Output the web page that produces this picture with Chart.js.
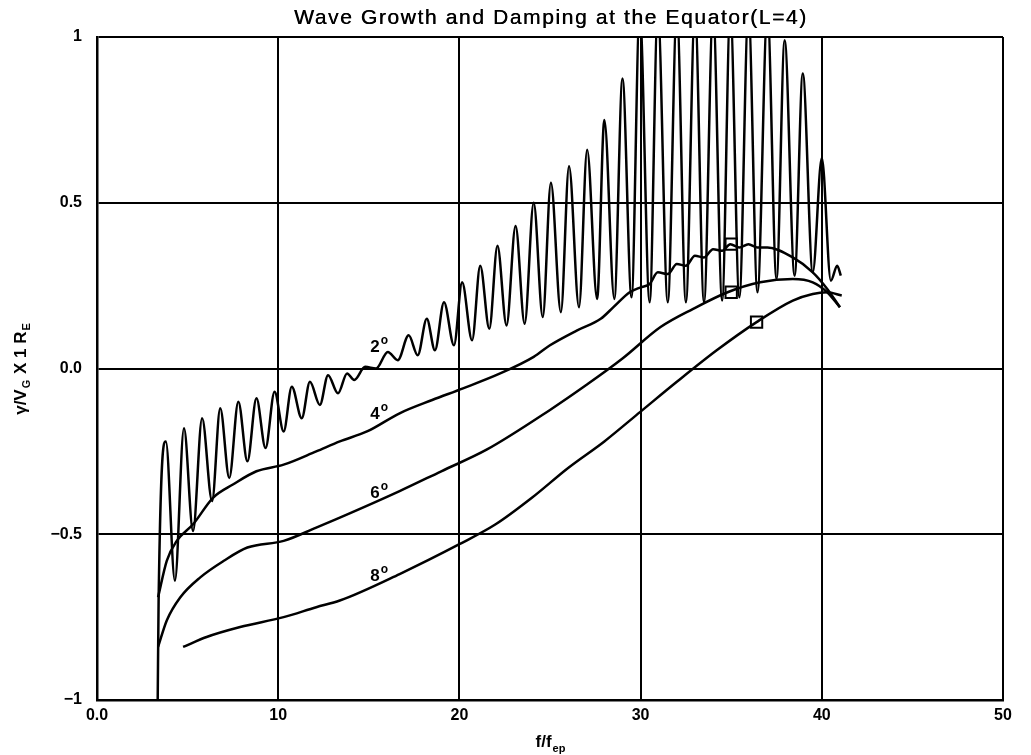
<!DOCTYPE html>
<html>
<head>
<meta charset="utf-8">
<script src="https://cdn.jsdelivr.net/npm/chart.js@4/dist/chart.umd.min.js"></script>
<style>
  html, body { margin: 0; padding: 0; background: #fff; }
  #wrap { width: 1031px; height: 755px; position: relative; }
</style>
</head>
<body>
<div id="wrap"><canvas id="c" width="1031" height="755"></canvas></div>
<script>
// ---------------- data ----------------
const chartTitle = 'Wave Growth and Damping at the Equator(L=4)';

const xTickValues = [0, 10, 20, 30, 40, 50];
const xTickLabels = ['0.0', '10', '20', '30', '40', '50'];
const yTickValues = [-1, -0.5, 0, 0.5, 1];
const yTickLabels = ['\u22121', '\u22120.5', '0.0', '0.5', '1'];

// 2 degree curve (oscillating)
const deg2X = [3.35, 3.4, 3.8, 4.3, 4.8, 5.3, 5.8, 6.35, 6.8, 7.3, 7.8, 8.3,
  8.8, 9.3, 9.8, 10.3, 10.75, 11.3, 11.75, 12.3, 12.75, 13.3,
  13.8, 14.2, 14.8, 15.4, 16.05, 16.6, 17.2, 17.7, 18.2, 18.65,
  19.15, 19.7, 20.15, 20.7, 21.15, 21.65, 22.1, 22.6, 23.1, 23.6,
  24.1, 24.6, 25.05, 25.6, 26.05, 26.6, 27.05, 27.6, 28.0, 28.55,
  29.0, 29.5, 29.95, 30.5, 30.95, 31.5, 32.0, 32.5, 33.0, 33.5,
  34.0, 34.5, 34.95, 35.45, 35.95, 36.45, 37.0, 37.5, 37.95, 38.5,
  38.95, 39.5, 40.0, 40.5, 40.85, 41.05];
const deg2Y = [-1.0, -0.70, -0.22, -0.64, -0.18, -0.49, -0.15, -0.40, -0.12, -0.33, -0.10, -0.28,
  -0.09, -0.24, -0.07, -0.19, -0.055, -0.15, -0.04, -0.11, -0.02, -0.075,
  -0.015, -0.035, 0.005, 0.0, 0.05, 0.025, 0.10, 0.04, 0.15, 0.055,
  0.20, 0.07, 0.26, 0.085, 0.31, 0.12, 0.37, 0.13, 0.43, 0.135,
  0.50, 0.155, 0.56, 0.17, 0.61, 0.185, 0.66, 0.21, 0.75, 0.21,
  0.875, 0.215, 1.08, 0.20, 1.08, 0.20, 1.08, 0.20, 1.08, 0.20,
  1.08, 0.205, 1.08, 0.215, 1.08, 0.23, 1.08, 0.27, 0.99, 0.28,
  0.89, 0.29, 0.635, 0.265, 0.31, 0.28];

// 4 degree curve (with small ripples near the top)
const deg4X = [3.37, 3.85, 4.4, 5.3, 6.4, 7.5, 8.8, 10.3, 12.1, 13.4, 14.9, 16.7, 18.5, 20.2,
  22.25, 24.1, 25.0, 26.5, 27.8, 28.5, 29.4, 30.0, 30.5, 30.95, 31.5, 32.0, 32.5, 33.0,
  33.5, 34.0, 34.5, 34.95, 35.45, 35.95, 36.45, 37.0, 38.4, 39.5, 40.3, 41.0];
const deg4Y = [-0.69, -0.58, -0.52, -0.47, -0.39, -0.35, -0.31, -0.29, -0.25, -0.22, -0.19, -0.135, -0.095, -0.06,
  -0.015, 0.035, 0.07, 0.115, 0.15, 0.185, 0.23, 0.245, 0.255, 0.29, 0.285, 0.315, 0.31, 0.34,
  0.335, 0.36, 0.355, 0.375, 0.365, 0.375, 0.365, 0.365, 0.335, 0.29, 0.24, 0.185];

// 6 degree curve
const deg6X = [3.37, 3.85, 4.6, 5.7, 7.0, 8.3, 10.3, 12.1, 13.4, 16.7, 19.0, 21.5, 25.0, 27.0,
  29.0, 31.1, 32.9, 34.8, 36.6, 38.4, 39.5, 40.3, 41.0];
const deg6Y = [-0.84, -0.76, -0.69, -0.63, -0.58, -0.54, -0.52, -0.48, -0.45, -0.37, -0.31, -0.245, -0.125, -0.05,
  0.03, 0.125, 0.18, 0.23, 0.26, 0.27, 0.26, 0.23, 0.185];

// 8 degree curve
const deg8X = [4.75, 6.05, 7.9, 10.3, 12.1, 13.4, 16.7, 20.0, 22.0, 24.0, 26.0, 28.0, 30.0, 32.0,
  34.2, 36.4, 38.4, 39.5, 40.3, 41.1];
const deg8Y = [-0.84, -0.81, -0.78, -0.75, -0.72, -0.70, -0.62, -0.53, -0.47, -0.39, -0.30, -0.22, -0.13, -0.04,
  0.055, 0.14, 0.205, 0.225, 0.23, 0.22];

// square markers
const markerX = [35.0, 35.0, 36.4];
const markerY = [0.375, 0.23, 0.14];

// curve labels (number, position in data units)
const curveLabels = ['2', '4', '6', '8'];
const curveLabelX = [15.6, 15.6, 15.6, 15.6];
const curveLabelY = [0.07, -0.13, -0.37, -0.62];

// ---------------- chart ----------------
const pts = (xs, ys) => xs.map((x, i) => ({ x: x, y: ys[i] }));
const FONT = '"Liberation Sans", Arial, Helvetica, sans-serif';

const curveDs = (xs, ys) => ({
  data: pts(xs, ys),
  borderColor: '#000',
  borderWidth: 2.5,
  pointRadius: 0,
  fill: false,
  cubicInterpolationMode: 'monotone'
});

const textPlugin = {
  id: 'texts',
  afterDraw(chart) {
    const ctx = chart.ctx;
    const ca = chart.chartArea;
    const xs = chart.scales.x, ys = chart.scales.y;
    ctx.save();
    ctx.fillStyle = '#000';
    // title
    ctx.font = '21px ' + FONT;
    ctx.textAlign = 'left';
    ctx.textBaseline = 'alphabetic';
    const target = 512;
    const w0 = ctx.measureText(chartTitle).width;
    if ('letterSpacing' in ctx) ctx.letterSpacing = ((target - w0) / (chartTitle.length - 1)).toFixed(2) + 'px';
    ctx.fillText(chartTitle, (ca.left + ca.right) / 2 - target / 2, 24);
    ctx.fillText(chartTitle, (ca.left + ca.right) / 2 - target / 2 + 0.4, 24);
    if ('letterSpacing' in ctx) ctx.letterSpacing = '0px';

    // x axis title  f/f_ep
    const big = 'bold 17px ' + FONT, small = 'bold 11px ' + FONT;
    ctx.font = big; const a = ctx.measureText('f/f').width;
    ctx.font = small; const b = ctx.measureText('ep').width;
    let x0 = (ca.left + ca.right) / 2 - (a + b) / 2;
    ctx.font = big; ctx.fillText('f/f', x0, 747);
    ctx.font = small; ctx.fillText('ep', x0 + a + 1, 752);

    // y axis title  γ/V_G X 1 R_E
    const parts = [['\u03B3/V', big, 0], ['G', small, 4], [' X 1 R', big, 0], ['E', small, 4]];
    let tot = 0;
    parts.forEach(p => { ctx.font = p[1]; tot += ctx.measureText(p[0]).width + 1; });
    ctx.translate(26, ys.getPixelForValue(0));
    ctx.rotate(-Math.PI / 2);
    let px = -tot / 2;
    parts.forEach(p => { ctx.font = p[1]; ctx.fillText(p[0], px, p[2]); px += ctx.measureText(p[0]).width + 1; });
    ctx.setTransform(1, 0, 0, 1, 0, 0);

    // curve labels with degree sign
    curveLabels.forEach((t, i) => {
      const cx = xs.getPixelForValue(curveLabelX[i]);
      const cy = ys.getPixelForValue(curveLabelY[i]);
      ctx.font = 'bold 17px ' + FONT; const tw = ctx.measureText(t).width;
      ctx.fillText(t, cx - tw, cy + 7);
      ctx.font = 'bold 12px ' + FONT;
      ctx.fillText('o', cx + 1, cy - 1);
    });
    ctx.restore();
  }
};

new Chart(document.getElementById('c'), {
  type: 'line',
  data: {
    datasets: [
      curveDs(deg2X, deg2Y),
      curveDs(deg4X, deg4Y),
      curveDs(deg6X, deg6Y),
      curveDs(deg8X, deg8Y),
      {
        data: pts(markerX, markerY),
        showLine: false,
        pointStyle: 'rect',
        pointRadius: 8,
        pointBorderWidth: 2,
        pointBorderColor: '#000',
        pointBackgroundColor: 'rgba(0,0,0,0)'
      }
    ]
  },
  options: {
    responsive: false,
    animation: false,
    events: [],
    layout: { padding: { top: 37, right: 28, left: 0, bottom: 0 } },
    plugins: { legend: { display: false }, tooltip: { enabled: false }, title: { display: false } },
    scales: {
      x: {
        type: 'linear', min: 0, max: 50,
        afterBuildTicks: s => { s.ticks = xTickValues.map(v => ({ value: v })); },
        afterFit: s => { s.height = 55; },
        ticks: {
          callback: v => xTickLabels[xTickValues.indexOf(v)],
          color: '#000', padding: 6, maxRotation: 0,
          font: { family: FONT, size: 16, weight: 'bold' }
        },
        grid: { color: '#000', lineWidth: 2, drawTicks: false },
        border: { display: true, color: '#000', width: 2.5 }
      },
      y: {
        type: 'linear', min: -1, max: 1,
        afterBuildTicks: s => { s.ticks = yTickValues.map(v => ({ value: v })); },
        afterFit: s => { s.width = 97; },
        ticks: {
          callback: v => yTickLabels[yTickValues.indexOf(v)],
          color: '#000', padding: 15,
          font: { family: FONT, size: 16, weight: 'bold' }
        },
        grid: { color: '#000', lineWidth: 2, drawTicks: false },
        border: { display: true, color: '#000', width: 2.5 }
      }
    }
  },
  plugins: [textPlugin]
});
</script>
</body>
</html>
